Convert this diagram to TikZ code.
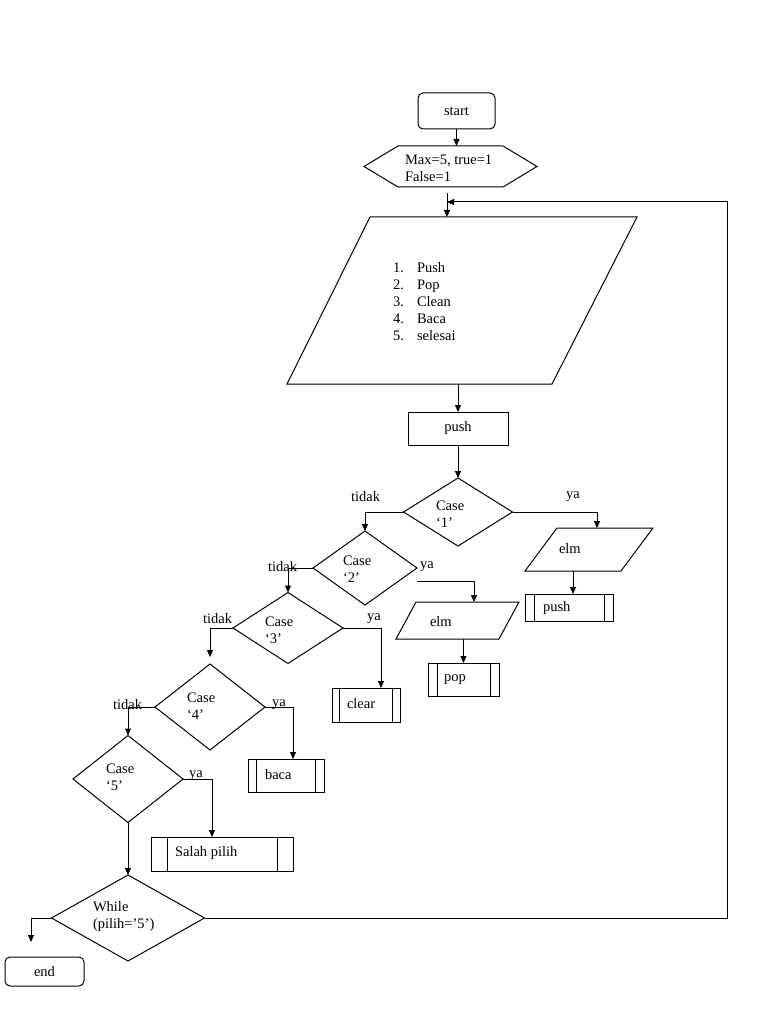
\documentclass[tikz,border=0pt]{standalone}
\usepackage{fontspec}
\setmainfont{Liberation Serif}
\usetikzlibrary{shapes.geometric,arrows.meta}
\begin{document}
\begin{tikzpicture}[x=1pt,y=-1pt,
  every node/.style={font=\fontsize{14.5}{17}\selectfont, inner sep=0pt, outer sep=0pt},
  line/.style={line width=1pt, black},
  arr/.style={line, -{Triangle[length=7pt,width=6pt]}},
  ghost/.style={rectangle, draw=none},
  rbox/.style={rectangle, draw, line width=1pt, rounded corners=5pt},
  pbox/.style={rectangle, draw, line width=1pt},
  dmd/.style={diamond, draw, line width=1pt},
  subr/.style={rectangle, draw, line width=1pt,
    path picture={\draw[line width=1pt]
      ([xshift=#1]path picture bounding box.north west) -- ([xshift=#1]path picture bounding box.south west)
      ([xshift=-#1]path picture bounding box.north east) -- ([xshift=-#1]path picture bounding box.south east);}},
  txt/.style={anchor=west, align=left},
]
\useasboundingbox (0,0) rectangle (768,1024);

% shapes
\node[rbox, minimum width=77pt, minimum height=36pt] (start) at (456.5,111) {start};
\node[ghost, minimum width=173pt, minimum height=41pt] (hex) at (450.5,166.5) {};
\draw[line] ([xshift=34pt]hex.north west) -- ([xshift=-34pt]hex.north east) -- (hex.east)
  -- ([xshift=-34pt]hex.south east) -- ([xshift=34pt]hex.south west) -- (hex.west) -- cycle;
\node[txt] (thex) at (405,168) {Max=5, true=1\\False=1};

\node[ghost, minimum width=350pt, minimum height=167pt] (menu) at (462,300.5) {};
\draw[line] ([xshift=83pt]menu.north west) -- (menu.north east) -- ([xshift=-85pt]menu.south east)
  -- (menu.south west) -- cycle;
\node[txt] (tmenu) at (393,302) {\makebox[24pt][l]{1.}Push\\\makebox[24pt][l]{2.}Pop\\\makebox[24pt][l]{3.}Clean\\\makebox[24pt][l]{4.}Baca\\\makebox[24pt][l]{5.}selesai};

\node[pbox, minimum width=100pt, minimum height=33pt] (push) at (458,428.5) {push};

\node[dmd, minimum width=109pt, minimum height=68pt] (d1) at (458,512) {};
\node[txt] (td1) at (436,514) {Case\\‘1’};

\node[ghost, minimum width=128pt, minimum height=43pt] (elm1) at (589,549.5) {};
\draw[line] ([xshift=32pt]elm1.north west) -- (elm1.north east) -- ([xshift=-32pt]elm1.south east)
  -- (elm1.south west) -- cycle;
\node[txt] (telm1) at (559,549) {elm};

\node[subr=9pt, minimum width=88pt, minimum height=27pt] (push2) at (569,607.5) {};
\node[txt] (tpush2) at (543,608) {push};

\node[dmd, minimum width=104pt, minimum height=74pt] (d2) at (365,568) {};
\node[txt] (td2) at (343,569) {Case\\‘2’};

\node[ghost, minimum width=123pt, minimum height=37pt] (elm2) at (457.5,620.5) {};
\draw[line] ([xshift=20pt]elm2.north west) -- (elm2.north east) -- ([xshift=-20pt]elm2.south east)
  -- (elm2.south west) -- cycle;
\node[txt] (telm2) at (430,622) {elm};

\node[subr=9pt, minimum width=71pt, minimum height=33pt] (pop) at (463.5,679.5) {};
\node[txt] (tpop) at (444,680) {pop};

\node[dmd, minimum width=110pt, minimum height=71pt] (d3) at (288,628) {};
\node[txt] (td3) at (265,630) {Case\\‘3’};

\node[subr=7.5pt, minimum width=68pt, minimum height=34pt] (clear) at (366,705) {};
\node[txt] (tclear) at (347,704) {clear};

\node[dmd, minimum width=110pt, minimum height=86pt] (d4) at (210,707) {};
\node[txt] (td4) at (187,706) {Case\\‘4’};

\node[subr=8.5pt, minimum width=76pt, minimum height=33pt] (baca) at (286,775.5) {};
\node[txt] (tbaca) at (265,775) {baca};

\node[dmd, minimum width=110pt, minimum height=87pt] (d5) at (128,779) {};
\node[txt] (td5) at (106,777) {Case\\‘5’};

\node[subr=16pt, minimum width=142pt, minimum height=34pt] (salah) at (222,854) {};
\node[txt] (tsalah) at (175,853) {Salah pilih};

\node[dmd, minimum width=153pt, minimum height=86pt] (w) at (128,918) {};
\node[txt] (tw) at (93,917) {While\\(pilih=’5’)};

\node[rbox, minimum width=79pt, minimum height=29pt] (endn) at (44.5,971.5) {end};

% labels
\node[txt] (l1) at (351,497) {tidak};
\node[txt] (l2) at (566,497) {ya};
\node[txt] (l3) at (268,567) {tidak};
\node[txt] (l4) at (420,567) {ya};
\node[txt] (l5) at (203,619) {tidak};
\node[txt] (l6) at (367,619) {ya};
\node[txt] (l7) at (113,705) {tidak};
\node[txt] (l8) at (272,705) {ya};
\node[txt] (l9) at (189,776) {ya};

% helper coordinates
\coordinate (c1) at (447,193);
\coordinate (cin) at (447,202);
\coordinate (rr) at (727,202);
\coordinate (c2) at ([yshift=-13pt]d2.east);
\coordinate (ce) at (31,942);

% connectors
\draw[arr] (start.south) -- (hex.north -| start.south);
\draw[arr] (c1) -- (c1 |- menu.north);
\draw[arr] (w.east) -- (w.east -| rr) -- (rr) -- (cin);
\draw[arr] (push.north |- menu.south) -- (push.north);
\draw[arr] (push.south) -- (d1.north);
\draw[arr] (d1.west) -| (d2.north);
\draw[arr] (d1.east) -| ([xshift=8pt]elm1.north);
\draw[arr] ([xshift=-16pt]elm1.south) -- ([xshift=-16pt]elm1.south |- push2.north);
\draw[arr] (c2) -| ([xshift=16.5pt]elm2.north);
\draw[arr] (pop.north |- elm2.south) -- (pop.north);
\draw[arr] (d2.west) -| (d3.north);
\draw[arr] (d3.east) -| ([xshift=15pt]clear.north);
\draw[arr] (d3.west) -| ([yshift=7pt]d4.north);
\draw[arr] (d4.east) -| ([xshift=7pt]baca.north);
\draw[arr] (d4.west) -| (d5.north);
\draw[arr] (d5.east) -| ([xshift=-10pt]salah.north);
\draw[arr] (d5.south) -- (w.north);
\draw[arr] (w.west) -| (ce);
\end{tikzpicture}
\end{document}
